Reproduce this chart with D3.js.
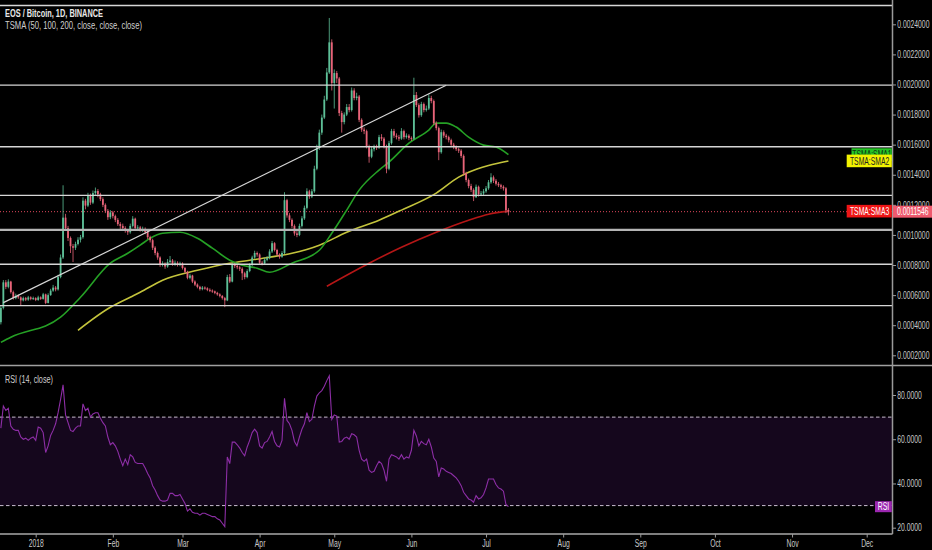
<!DOCTYPE html>
<html><head><meta charset="utf-8">
<script src="https://cdn.jsdelivr.net/npm/d3@7"></script>
<style>
html,body{margin:0;padding:0;background:#000;}
svg{display:block;}
text{font-family:"Liberation Sans",Arial,sans-serif;}
</style></head><body>
<svg id="c" width="932" height="550"></svg>
<script>
// ---------- DATA (prices in micro-BTC, 1e-6 BTC) ----------
const UNIT = 1e-6;
const startDate = "2017-12-18";   // first daily candle
const firstOpen = 420;
const closes = [
 515,685,655,690,620,580,595,585,565,580,
 570,585,575,580,568,585,575,605,548,600,
 630,650,638,720,850,1115,1045,980,925,915,
 940,968,985,1228,1195,1265,1215,1278,1292,1270,
 1238,1200,1160,1118,1150,1125,1100,1072,1060,1045,
 1030,1018,1060,1108,1045,1050,1035,1040,1020,985,
 965,915,880,850,800,810,790,820,830,805,
 815,800,810,780,755,715,730,690,670,655,
 640,650,645,635,630,625,615,605,595,580,
 565,720,690,800,795,785,775,745,720,760,
 800,850,880,870,815,810,835,845,890,945,
 900,870,855,880,1231,1130,1100,1060,1010,1000,
 1060,1110,1180,1290,1255,1290,1440,1580,1680,1780,
 1900,2080,2280,2010,2076,2040,1810,1750,1800,1850,
 1830,1960,1910,1920,1765,1700,1690,1590,1520,1570,
 1585,1580,1650,1640,1590,1440,1610,1690,1660,1650,
 1640,1690,1650,1660,1645,1640,1930,1863,1796,1870,
 1830,1840,1910,1890,1743,1710,1550,1683,1660,1650,
 1630,1600,1584,1570,1560,1525,1410,1365,1325,1300,
 1251,1320,1270,1276,1290,1310,1350,1383,1360,1340,
 1330,1320,1310,1165,1154.6];
const highs = [
 530,700,700,705,695,630,610,605,592,590,
 588,595,592,590,586,596,592,615,610,612,
 642,668,660,735,870,1330,1140,1060,990,940,
 955,985,1000,1250,1240,1280,1275,1295,1315,1305,
 1280,1250,1210,1172,1165,1160,1135,1112,1085,1075,
 1058,1040,1075,1125,1115,1065,1060,1055,1050,1030,
 995,975,925,890,858,825,818,840,860,840,
 830,825,822,818,788,762,742,735,698,678,
 662,660,658,652,645,638,630,622,612,600,
 588,735,740,815,815,805,795,785,755,772,
 812,862,895,890,878,828,848,860,905,960,
 952,908,878,892,1284,1240,1145,1110,1070,1030,
 1075,1125,1195,1310,1300,1305,1460,1600,1700,1800,
 1925,2110,2442,2300,2100,2090,2050,1825,1815,1870,
 1870,1980,1975,1945,1930,1775,1715,1700,1600,1585,
 1600,1600,1665,1670,1650,1600,1625,1705,1705,1675,
 1665,1710,1700,1675,1670,1655,2045,1950,1875,1885,
 1880,1860,1935,1925,1900,1755,1720,1700,1695,1672,
 1660,1640,1612,1595,1580,1570,1535,1420,1375,1340,
 1310,1335,1328,1292,1305,1325,1365,1410,1395,1372,
 1352,1340,1330,1318,1178];
const lows = [
 405,505,640,645,610,570,572,575,533,558,
 560,562,566,568,560,562,568,570,540,545,
 595,622,625,630,712,840,1030,960,880,820,
 900,930,950,975,1170,1185,1200,1205,1260,1250,
 1225,1185,1145,1100,1105,1110,1085,1060,1040,1030,
 1015,1000,1008,1050,1030,1032,1022,1020,1005,972,
 950,900,865,835,788,790,775,782,810,795,
 795,790,792,770,745,705,705,680,660,645,
 630,632,636,626,620,615,606,596,585,570,
 520,560,680,685,780,772,760,700,705,712,
 752,792,842,855,802,798,805,825,838,880,
 890,858,842,848,872,1115,1085,1045,995,985,
 992,1050,1100,1170,1240,1245,1280,1430,1565,1665,
 1770,1890,2070,1960,1840,2010,1790,1680,1735,1790,
 1815,1820,1895,1895,1750,1685,1670,1575,1480,1510,
 1555,1565,1572,1625,1575,1410,1430,1600,1645,1635,
 1625,1632,1635,1640,1630,1625,1632,1850,1780,1785,
 1815,1820,1830,1875,1730,1695,1497,1540,1645,1635,
 1615,1588,1570,1558,1545,1512,1395,1350,1310,1285,
 1225,1245,1255,1258,1265,1280,1300,1340,1345,1328,
 1318,1305,1295,1145,1130];
const rsiValues = [
 65,75,73,74,66,64.5,64,64,61,60,
 60.5,59.5,60.5,61,59.5,65.5,65,63,54,57,
 61.7,64,67,72,78,84.6,71,67.5,64,63.5,
 65,66,66,76,73,74,70,71.4,72,72,
 69.5,67.5,66,61,57.5,58.5,57,54.5,51,48,
 51,48.5,53,52,49.5,49,49,49,47,44.5,
 42.5,39,37,34.5,32.5,32,32,32.5,35.5,35.5,
 34.5,34.5,35,33,31,27.5,28.5,27,26.5,26.5,
 25.7,26.5,26.5,26,25.5,25,25,24,23.5,22,
 20.5,52,49,58.7,58.7,57.5,56,54,52.5,56.5,
 59.5,63,64.5,63,57,56,58.5,59,61,63.5,
 59,57,56.5,59.5,78.5,68.5,67,64,59,57,
 61,64.5,67,72,68,69,75,79.5,81,82,
 84,86.5,88.7,69,71,70.5,58.7,59,60.5,61,
 60,62.5,62,61,55,51,50,51,46,45,
 45.5,48,50,49,46,41,51,53,52.5,52,
 51,53,51,52,51.5,55,64,61.5,57,59,
 58,57.5,60,56.5,51.5,50,43,47,46.5,45.5,
 45,44.5,43.5,42.5,41,39,36,34.5,33,32.5,
 31.5,34.5,33,33.5,35,38,42,42,42,39.5,
 38,37.5,36.5,30.5,29.5];
const sma50 = [["2017-12-18",286],["2017-12-22",320],["2018-01-11",453],["2018-01-19",586],["2018-01-31",812],
 ["2018-02-07",878],["2018-02-12",932],["2018-02-16",978],["2018-02-21",1011],["2018-02-28",1018],
 ["2018-03-07",978],["2018-03-13",912],["2018-03-20",832],["2018-03-25",799],["2018-03-31",779],
 ["2018-04-05",752],["2018-04-14",812],["2018-04-25",898],["2018-04-30",1011],["2018-05-06",1165],
 ["2018-05-11",1298],["2018-05-19",1431],["2018-05-23",1484],["2018-05-31",1610],["2018-06-08",1697],
 ["2018-06-11",1743],["2018-06-15",1743],["2018-06-19",1717],["2018-06-24",1650],["2018-06-30",1597],
 ["2018-07-05",1584],["2018-07-10",1534]];
const sma100 = [["2018-01-18",366],["2018-01-31",519],["2018-02-08",586],["2018-02-12",619],["2018-02-21",699],
 ["2018-03-07",765],["2018-03-20",812],["2018-03-28",832],["2018-04-05",852],["2018-04-14",878],
 ["2018-04-25",932],["2018-05-06",1018],["2018-05-19",1098],["2018-05-28",1165],["2018-06-11",1278],
 ["2018-06-20",1384],["2018-06-24",1417],["2018-07-02",1462],["2018-07-10",1492]];
const sma200 = [["2018-04-28",659],["2018-05-15",812],["2018-05-28",918],["2018-06-11",1018],
 ["2018-06-24",1098],["2018-07-02",1138],["2018-07-10",1158]];
const levels = [2525,1996,1586,1263,1033,805,530];
const trendline = [["2017-12-19",550],["2018-06-15",1995]];
const priceTicks = [0.0002,0.0004,0.0006,0.0008,0.0010,0.0012,0.0014,0.0016,0.0018,0.0020,0.0022,0.0024];
const rsiTicks = [20,40,60,80];
const rsiBands = [30,70];
const monthTicks = ["2018-01-01","2018-02-01","2018-03-01","2018-04-01","2018-05-01","2018-06-01",
 "2018-07-01","2018-08-01","2018-09-01","2018-10-01","2018-11-01","2018-12-01"];
const monthLabels = ["2018","Feb","Mar","Apr","May","Jun","Jul","Aug","Sep","Oct","Nov","Dec"];
const smaNames = ["TSMA:SMA1","TSMA:SMA2","TSMA:SMA3"];
const titleText = "EOS / Bitcoin, 1D, BINANCE";
const studyText = "TSMA (50, 100, 200, close, close, close)";
const rsiTitle = "RSI (14, close)";

// ---------- LAYOUT ----------
const W = 932, H = 550, AX = 892.5, PTOP = 0, PBOT = 365.5, RTOP = 366, RBOT = 534;
const SX = 0.68; // horizontal text compression
const svg = d3.select("#c");
svg.append("rect").attr("width", W).attr("height", H).attr("fill", "#000");
const defs = svg.append("defs");
defs.append("clipPath").attr("id","cp").append("rect").attr("x",0).attr("y",PTOP).attr("width",AX).attr("height",PBOT-PTOP);
defs.append("clipPath").attr("id","cr").append("rect").attr("x",0).attr("y",RTOP).attr("width",AX).attr("height",RBOT-RTOP);

const parse = d3.utcParse("%Y-%m-%d");
const x = d3.scaleUtc().domain([parse(monthTicks[0]), parse(monthTicks[11])]).range([35.7, 866.7]);
const y = d3.scaleLinear().domain([0.0002, 0.0024]).range([355.3, 24.3]);
const yR = d3.scaleLinear().domain([20, 80]).range([527.7, 395]);

const start = parse(startDate);
const candles = closes.map((c, i) => ({
  date: d3.utcDay.offset(start, i),
  open: (i ? closes[i-1] : firstOpen) * UNIT,
  close: c * UNIT, high: highs[i] * UNIT, low: lows[i] * UNIT
}));

function stext(g, px, py, s, o = {}) {
  return g.append("text")
    .attr("transform", `translate(${px},${py}) scale(${o.sx || SX},1)`)
    .attr("text-anchor", o.anchor || "start")
    .attr("font-size", o.size || 10)
    .attr("font-weight", o.weight || "normal")
    .attr("fill", o.fill || "#c8c8c8")
    .text(s);
}

// ---------- PRICE PANE ----------
const pp = svg.append("g").attr("clip-path", "url(#cp)");
const lastClose = closes[closes.length - 1] * UNIT;

pp.append("line").attr("x1", 0).attr("x2", AX).attr("y1", y(lastClose)).attr("y2", y(lastClose))
  .attr("stroke", "#e0485c").attr("stroke-width", 1).attr("stroke-dasharray", "1,2");

const smaLine = d3.line().x(d => x(parse(d[0]))).y(d => y(d[1] * UNIT)).curve(d3.curveMonotoneX);
[[sma200, "#b51616"], [sma100, "#c3c33c"], [sma50, "#25a025"]].forEach(([data, col]) => {
  pp.append("path").attr("d", smaLine(data)).attr("fill", "none").attr("stroke", col).attr("stroke-width", 1.6);
});

const up = "#5dbf97", dn = "#e86479";
const col = d => d.close >= d.open ? up : dn;
pp.selectAll("line.wick").data(candles).join("line").attr("class", "wick")
  .attr("x1", d => x(d.date)).attr("x2", d => x(d.date))
  .attr("y1", d => y(d.high)).attr("y2", d => y(d.low))
  .attr("stroke", col).attr("stroke-width", 0.8);
const bw = 1.8;
pp.selectAll("rect.body").data(candles).join("rect").attr("class", "body")
  .attr("x", d => x(d.date) - bw / 2).attr("width", bw)
  .attr("y", d => y(Math.max(d.open, d.close)))
  .attr("height", d => Math.max(1, Math.abs(y(d.open) - y(d.close))))
  .attr("fill", col);

levels.forEach(v => {
  pp.append("line").attr("x1", 0).attr("x2", AX).attr("y1", y(v * UNIT)).attr("y2", y(v * UNIT))
    .attr("stroke", v === 1033 ? "#b4b4b4" : "#d6d6d6").attr("stroke-width", v === 1033 ? 2.2 : 1.4);
});
pp.append("line")
  .attr("x1", x(parse(trendline[0][0]))).attr("y1", y(trendline[0][1] * UNIT))
  .attr("x2", x(parse(trendline[1][0]))).attr("y2", y(trendline[1][1] * UNIT))
  .attr("stroke", "#d6d6d6").attr("stroke-width", 1.2);

svg.append("text").attr("x", 5).attr("y", 17).attr("font-size", 10.5).attr("font-weight", "bold")
  .attr("fill", "#e8e8e8").attr("textLength", 98).attr("lengthAdjust", "spacingAndGlyphs").text(titleText);
svg.append("text").attr("x", 5).attr("y", 29).attr("font-size", 10.5)
  .attr("fill", "#cfcfcf").attr("textLength", 137).attr("lengthAdjust", "spacingAndGlyphs").text(studyText);

// ---------- RSI PANE ----------
const rp = svg.append("g").attr("clip-path", "url(#cr)");
rp.append("rect").attr("x", 0).attr("width", AX).attr("y", yR(rsiBands[1])).attr("height", yR(rsiBands[0]) - yR(rsiBands[1]))
  .attr("fill", "#15071d");
rsiBands.forEach(v => rp.append("line").attr("x1", 0).attr("x2", AX).attr("y1", yR(v)).attr("y2", yR(v))
  .attr("stroke", "#c8bccf").attr("stroke-width", 1).attr("stroke-dasharray", "3.5,2.5"));
rp.append("path").datum(rsiValues)
  .attr("d", d3.line().x((d, i) => x(candles[i].date)).y(d => yR(d)))
  .attr("fill", "none").attr("stroke", "#8d2ea6").attr("stroke-width", 1.1);
svg.append("text").attr("x", 5).attr("y", 383).attr("font-size", 10.5)
  .attr("fill", "#cfcfcf").attr("textLength", 48).attr("lengthAdjust", "spacingAndGlyphs").text(rsiTitle);

// ---------- FRAME LINES ----------
svg.append("line").attr("x1", 0).attr("x2", W).attr("y1", 365.5).attr("y2", 365.5).attr("stroke", "#a0a0a0").attr("stroke-width", 1.5);
svg.append("line").attr("x1", 0).attr("x2", AX).attr("y1", RBOT).attr("y2", RBOT).attr("stroke", "#a8a8a8").attr("stroke-width", 1.5);
svg.append("line").attr("x1", AX).attr("x2", AX).attr("y1", 0).attr("y2", RBOT).attr("stroke", "#9a9a9a").attr("stroke-width", 1.5);

// ---------- AXES ----------
const fmtP = d3.format(".7f");
const ay = svg.append("g").attr("transform", `translate(${AX},0)`)
  .call(d3.axisRight(y).tickValues(priceTicks).tickFormat(fmtP).tickSize(3.5).tickPadding(1));
const ar = svg.append("g").attr("transform", `translate(${AX},0)`)
  .call(d3.axisRight(yR).tickValues(rsiTicks).tickFormat(d3.format(".4f")).tickSize(3.5).tickPadding(1));
const ax = svg.append("g").attr("transform", `translate(0,${RBOT})`)
  .call(d3.axisBottom(x).tickValues(monthTicks.map(parse)).tickFormat((d, i) => monthLabels[i]).tickSize(3.5).tickPadding(2.5));
[ay, ar, ax].forEach(g => {
  g.select(".domain").remove();
  g.selectAll(".tick line").attr("stroke", "#9a9a9a");
  g.selectAll(".tick text").attr("fill", "#c8c8c8").attr("font-size", 10)
    .attr("font-family", "Liberation Sans, Arial, sans-serif");
});
[ay, ar].forEach(g => g.selectAll(".tick text").attr("x", 4.8 / SX).attr("transform", `scale(${SX},1)`));
ax.selectAll(".tick text").attr("transform", `scale(${SX},1)`);

// ---------- VALUE LABELS ----------
const smaLast = [sma50, sma100, sma200].map(a => a[a.length - 1][1] * UNIT);
const boxDefs = [
  {v: smaLast[0], fill: "#25c425", text: "#103010", x0: 851.5},
  {v: smaLast[1], fill: "#f2f200", text: "#222", x0: 846.7},
  {v: smaLast[2], fill: "#ee1515", text: "#fff", x0: 846.7}
];
boxDefs.forEach((b, i) => {
  const cy = y(b.v);
  svg.append("rect").attr("x", b.x0).attr("y", cy - 6.3).attr("width", AX - 0.7 - b.x0).attr("height", 12.6).attr("fill", b.fill);
  stext(svg, (b.x0 + AX) / 2, cy + 3.6, smaNames[i], {anchor: "middle", fill: b.text, size: 10});
});
svg.append("rect").attr("x", AX + 0.5).attr("y", y(lastClose) - 6).attr("width", W - AX).attr("height", 12).attr("fill", "#ef5a6e");
stext(svg, 897, y(lastClose) + 3.6, fmtP(lastClose), {fill: "#fff", size: 10});
const rsiY = yR(rsiValues[rsiValues.length - 1]);
svg.append("rect").attr("x", 875).attr("y", rsiY - 5.5).attr("width", 16.8).attr("height", 11).attr("fill", "#9c27b0");
stext(svg, 883.4, rsiY + 3.5, "RSI", {anchor: "middle", fill: "#fff", size: 10});
</script></body></html>
